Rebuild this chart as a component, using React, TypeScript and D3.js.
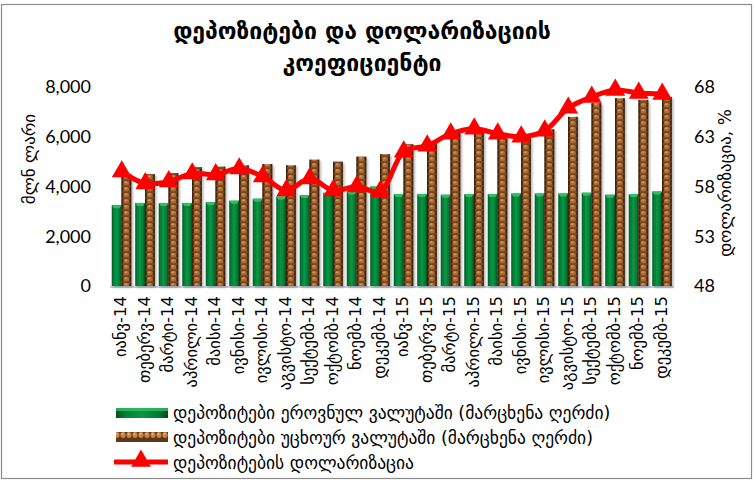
import React from "react";
import * as d3 from "d3";

// months of 2014-2015
const months = [
  "იანვ-14", "თებერვ-14", "მარტი-14", "აპრილი-14", "მაისი-14", "ივნისი-14",
  "ივლისი-14", "აგვისტო-14", "სექტემბ-14", "ოქტომბ-14", "ნოემბ-14", "დეკემბ-14",
  "იანვ-15", "თებერვ-15", "მარტი-15", "აპრილი-15", "მაისი-15", "ივნისი-15",
  "ივლისი-15", "აგვისტო-15", "სექტემბ-15", "ოქტომბ-15", "ნოემბ-15", "დეკემბ-15",
];

// deposits in national currency, mln GEL (left axis)
const domestic = [
  3250, 3340, 3340, 3340, 3370, 3430, 3510, 3600, 3660, 3750, 3800, 4000,
  3700, 3700, 3670, 3700, 3700, 3720, 3720, 3720, 3750, 3670, 3700, 3800,
];

// deposits in foreign currency, mln GEL (left axis)
const foreign = [
  4500, 4500, 4540, 4780, 4800, 4850, 4900, 4850, 5080, 5000, 5200, 5300,
  5700, 5800, 6250, 6350, 6100, 6000, 6300, 6800, 7350, 7550, 7480, 7600,
];

// dollarization, % (right axis)
const dollarization = [
  59.5, 58.3, 58.5, 59.3, 59.2, 59.8, 59.0, 57.6, 58.8, 57.6, 58.0, 57.5,
  61.5, 62.1, 63.3, 63.8, 63.3, 63.0, 63.6, 65.9, 67.0, 67.7, 67.4, 67.3,
];

const leftTicks = [0, 2000, 4000, 6000, 8000];
const rightTicks = [48, 53, 58, 63, 68];

const titleLines = ["დეპოზიტები და დოლარიზაციის", "კოეფიციენტი"];
const leftTitle = "მლნ ლარი";
const rightTitle = "დოლარიზაცია, %";
const legendLabels = [
  "დეპოზიტები ეროვნულ ვალუტაში (მარცხენა ღერძი)",
  "დეპოზიტები უცხოურ ვალუტაში (მარცხენა ღერძი)",
  "დეპოზიტების დოლარიზაცია",
];

const W = 756;
const H = 483;
const geo = "'DejaVu Sans', sans-serif";
const num = "Lato, 'Liberation Sans', sans-serif";

const App = () => {
  const x = d3.scaleBand().domain(months).range([110, 674]).padding(0);
  const sub = d3.scaleBand().domain(["dom", "for"]).range([-10, 9.5]).padding(0);
  const yL = d3.scaleLinear().domain([0, 8000]).range([286, 87]);
  const yR = d3.scaleLinear().domain([48, 68]).range([286, 87]);
  const cx = (m: string) => (x(m) as number) + x.bandwidth() / 2;
  const fmt = d3.format(",");

  const line = d3
    .line<number>()
    .x((_, i) => cx(months[i]))
    .y((d) => yR(d))
    .curve(d3.curveCatmullRom.alpha(0.5));

  const tri = d3.symbol().type(d3.symbolTriangle).size(170)();
  const bw = sub.bandwidth();
  const base = yL(0);

  return (
    <svg width={W} height={H} style={{ position: "absolute", left: 0, top: 0, background: "#fff" }}>
      <defs>
        <linearGradient id="gGreen" x1="0" x2="1" y1="0" y2="0">
          <stop offset="0%" stopColor="#00521f" />
          <stop offset="18%" stopColor="#007f35" />
          <stop offset="50%" stopColor="#0c9544" />
          <stop offset="82%" stopColor="#007a33" />
          <stop offset="100%" stopColor="#004a1c" />
        </linearGradient>
        <linearGradient id="gEdge" x1="0" x2="1" y1="0" y2="0">
          <stop offset="0%" stopColor="#2a1608" stopOpacity="0.85" />
          <stop offset="25%" stopColor="#2a1608" stopOpacity="0.1" />
          <stop offset="75%" stopColor="#2a1608" stopOpacity="0.1" />
          <stop offset="100%" stopColor="#2a1608" stopOpacity="0.85" />
        </linearGradient>
        <filter id="shadow" x="-50%" y="-10%" width="200%" height="130%">
          <feDropShadow dx="1.5" dy="1.5" stdDeviation="1.2" floodColor="#000" floodOpacity="0.3" />
        </filter>
        {months.map((m, i) => (
          <pattern
            key={m}
            id={`bead${i}`}
            patternUnits="userSpaceOnUse"
            x={cx(m) + (sub("for") as number)}
            y={0}
            width={bw}
            height={6}
          >
            <rect width={bw} height={6} fill="#5b3819" />
            <ellipse cx={bw / 2} cy={3} rx={bw * 0.32} ry={2.6} fill="#bd7436" />
            <ellipse cx={bw / 2 - 0.6} cy={2.3} rx={1.3} ry={1} fill="#e6a86a" />
            <ellipse cx={bw * 0.15} cy={0} rx={1.2} ry={1.2} fill="#a8652c" />
            <ellipse cx={bw * 0.85} cy={0} rx={1.2} ry={1.2} fill="#a8652c" />
            <ellipse cx={bw * 0.15} cy={6} rx={1.2} ry={1.2} fill="#a8652c" />
            <ellipse cx={bw * 0.85} cy={6} rx={1.2} ry={1.2} fill="#a8652c" />
          </pattern>
        ))}
        <pattern id="beadLegend" patternUnits="userSpaceOnUse" x={0} y={0} width={6} height={10}>
          <rect width={6} height={10} fill="#5b3819" />
          <ellipse cx={3} cy={5} rx={2.6} ry={3} fill="#c98040" />
          <ellipse cx={2.5} cy={4} rx={1} ry={1.2} fill="#eab27a" />
        </pattern>
      </defs>

      {/* frame */}
      <rect x={1.5} y={4.5} width={750} height={474} fill="none" stroke="#8c8c8c" strokeWidth={1.2} />

      {/* title */}
      {titleLines.map((t, i) => (
        <text
          key={t}
          x={362}
          y={39 + i * 32}
          textAnchor="middle"
          fontFamily={geo}
          fontWeight="bold"
          fontSize={23}
          fill="#000"
        >
          {t}
        </text>
      ))}

      {/* baseline */}
      <line x1={110} x2={674} y1={base + 1} y2={base + 1} stroke="#c6d3df" strokeWidth={2} />

      {/* bars */}
      {months.map((m, i) => {
        const gx = cx(m) + (sub("dom") as number);
        const fx = cx(m) + (sub("for") as number);
        const gy = yL(domestic[i]);
        const fy = yL(foreign[i]);
        return (
          <g key={m} filter="url(#shadow)">
            <rect x={gx} y={gy} width={bw} height={base - gy} fill="url(#gGreen)" />
            <path
              d={`M${gx},${gy} L${gx + bw},${gy} L${gx + bw - 2},${gy + 3} L${gx + 2},${gy + 3} Z`}
              fill="#2fbf63"
            />
            <rect x={fx} y={fy} width={bw} height={base - fy} fill={`url(#bead${i})`} />
            <rect x={fx} y={fy} width={bw} height={base - fy} fill="url(#gEdge)" />
          </g>
        );
      })}

      {/* dollarization line */}
      <path d={line(dollarization) || ""} fill="none" stroke="#ff0000" strokeWidth={5} strokeLinejoin="round" />
      {dollarization.map((d, i) => (
        <path key={i} d={tri || ""} transform={`translate(${cx(months[i])},${yR(d)})`} fill="#ff0000" />
      ))}

      {/* left axis */}
      {leftTicks.map((t) => (
        <text key={t} x={91} y={yL(t)} dy="0.35em" textAnchor="end" fontFamily={num} fontSize={18} fill="#000">
          {fmt(t)}
        </text>
      ))}
      <text
        transform={`translate(30,159) rotate(-90)`}
        textAnchor="middle"
        dominantBaseline="middle"
        fontFamily={geo}
        fontSize={17}
        fill="#000"
      >
        {leftTitle}
      </text>

      {/* right axis */}
      {rightTicks.map((t) => (
        <text key={t} x={694} y={yR(t)} dy="0.35em" textAnchor="start" fontFamily={num} fontSize={18} fill="#000">
          {t}
        </text>
      ))}
      <text
        transform={`translate(726,183) rotate(-90)`}
        textAnchor="middle"
        dominantBaseline="middle"
        fontFamily={geo}
        fontSize={17}
        fill="#000"
      >
        {rightTitle}
      </text>

      {/* x labels */}
      {months.map((m) => (
        <text
          key={m}
          transform={`translate(${cx(m)},296) rotate(-90)`}
          textAnchor="end"
          dominantBaseline="middle"
          fontFamily={geo}
          fontSize={16.5}
          fill="#000"
        >
          {m}
        </text>
      ))}

      {/* legend */}
      <g>
        <rect x={116} y={408} width={52} height={10} fill="url(#gGreen)" />
        <rect x={116} y={408} width={52} height={3} fill="#2fbf63" opacity={0.8} />
        <rect x={116} y={432} width={52} height={10} fill="url(#beadLegend)" />
        <line x1={114} x2={168} y1={462} y2={462} stroke="#ff0000" strokeWidth={5} />
        <path d={tri || ""} transform="translate(141,461)" fill="#ff0000" />
        {legendLabels.map((l, i) => (
          <text key={l} x={173} y={413 + i * 25} dy="0.35em" fontFamily={geo} fontSize={17.5} fill="#000">
            {l}
          </text>
        ))}
      </g>
    </svg>
  );
};

export default App;
